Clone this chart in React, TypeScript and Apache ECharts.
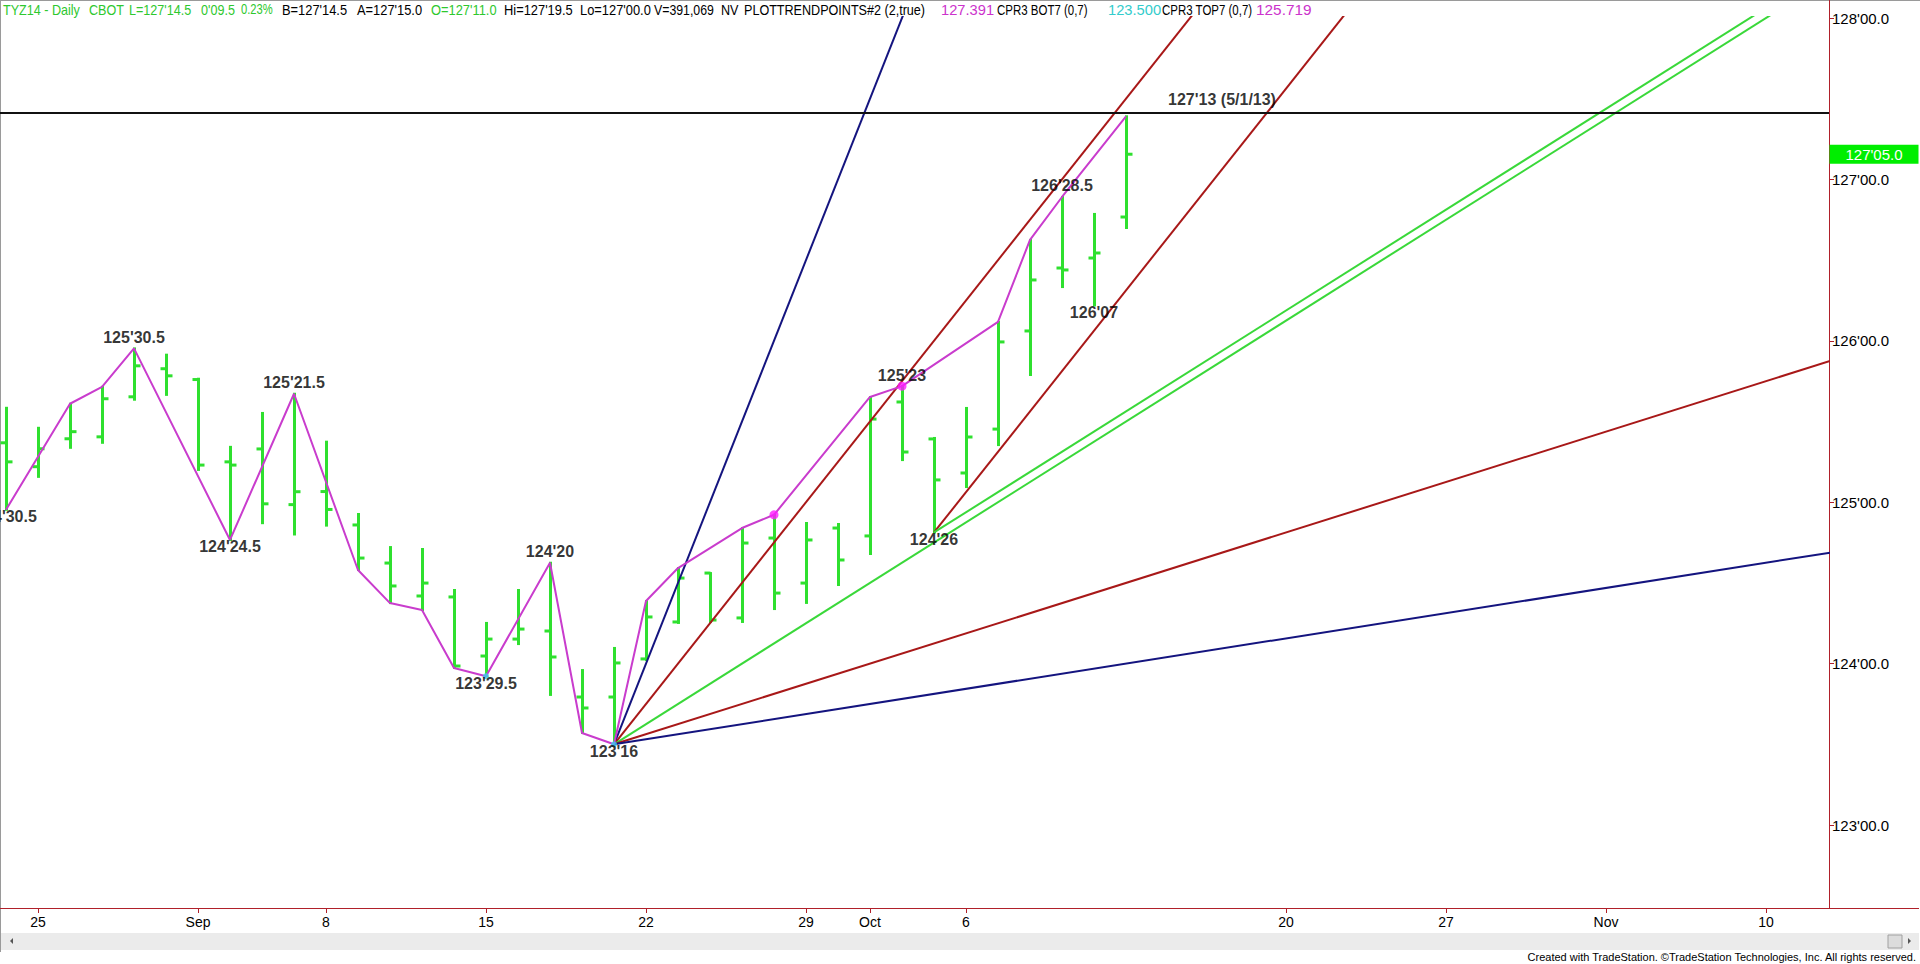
import React, { useEffect, useRef } from 'react';
import * as echarts from 'echarts';

// ---------- data ----------
const barDates = [
  '2014-08-22', '2014-08-25', '2014-08-26', '2014-08-27', '2014-08-28', '2014-08-29',
  '2014-09-02', '2014-09-03', '2014-09-04', '2014-09-05',
  '2014-09-08', '2014-09-09', '2014-09-10', '2014-09-11', '2014-09-12',
  '2014-09-15', '2014-09-16', '2014-09-17', '2014-09-18', '2014-09-19',
  '2014-09-22', '2014-09-23', '2014-09-24', '2014-09-25', '2014-09-26',
  '2014-09-29', '2014-09-30', '2014-10-01', '2014-10-02', '2014-10-03',
  '2014-10-06', '2014-10-07', '2014-10-08', '2014-10-09', '2014-10-10',
  '2014-10-13',
];
const opens = [
  125.368, 125.220, 125.393, 125.405, 125.653, 125.827,
  125.760, 125.250, 125.330, 124.985,
  125.066, 124.859, 124.623, 124.419, 124.413,
  124.047, 124.152, 124.202, 123.793, 123.793,
  124.029, 124.258, 124.561, 124.283, 124.778,
  124.499, 124.840, 124.791, 125.621, 125.392,
  125.181, 125.453, 126.061, 126.451, 126.513,
  126.767,
];
const highs = [
  125.585, 125.461, 125.610, 125.715, 125.953, 125.914,
  125.765, 125.343, 125.553, 125.672,
  125.375, 124.927, 124.722, 124.710, 124.456,
  124.252, 124.456, 124.625, 123.960, 124.097,
  124.388, 124.592, 124.561, 124.840, 124.922,
  124.871, 124.865, 125.652, 125.719, 125.398,
  125.584, 126.117, 126.625, 126.891, 126.786,
  127.391,
];
const lows = [
  124.953, 125.157, 125.337, 125.368, 125.635, 125.665,
  125.200, 124.766, 124.870, 124.800,
  124.855, 124.580, 124.375, 124.332, 123.973,
  123.922, 124.121, 123.806, 123.570, 123.500,
  124.022, 124.252, 124.258, 124.258, 124.338,
  124.376, 124.487, 124.679, 125.261, 124.8125,
  125.094, 125.354, 125.788, 126.333, 126.219,
  126.699,
];
const closes = [
  125.250, 125.331, 125.437, 125.641, 125.845, 125.783,
  125.230, 125.230, 124.990, 125.065,
  124.955, 124.654, 124.481, 124.499, 123.985,
  124.152, 124.214, 124.041, 123.725, 124.004,
  124.289, 124.530, 124.270, 124.747, 124.437,
  124.766, 124.642, 125.515, 125.311, 125.138,
  125.404, 125.993, 126.377, 126.439, 126.544,
  127.156,
];

// trading-day index of each date label on the time axis
const dateTickDays = [1, 6, 10, 15, 20, 25, 27, 30, 40, 45, 50, 55];
const dateTickLabels = ['25', 'Sep', '8', '15', '22', '29', 'Oct', '6', '20', '27', 'Nov', '10'];
const priceTicks = [123, 124, 125, 126, 127, 128];

// PLOTTRENDPOINTS zig-zag vertices: [day index, price]
const swingPoints = [
  [0, 124.953], [2, 125.610], [3, 125.715], [4, 125.953], [7, 124.766], [9, 125.672],
  [11, 124.580], [12, 124.375], [13, 124.332], [14, 123.973], [15, 123.922], [17, 124.625],
  [18, 123.570], [19, 123.500], [20, 124.388], [21, 124.592], [23, 124.840], [24, 124.922],
  [27, 125.652], [28, 125.719], [31, 126.117], [32, 126.625], [33, 126.891], [35, 127.391],
];
const magentaDots = [[24, 124.922], [28, 125.719]];
const cyanDots = [[15, 123.922], [19, 123.500]];

const swingHighDays = [4, 9, 17, 28, 33];
const swingLowDays = [0, 7, 15, 19, 29, 34];

// Gann-style angle lines: two points each [day, price]
const blueSteep = [[19, 123.5], [29, 128.5]];
const redSteep = [[19, 123.5], [39, 128.5]];
const greenMain = [[19, 123.5], [57, 128.25]];
const redShallow = [[19, 123.5], [57, 125.875]];
const blueShallow = [[19, 123.5], [57, 124.6875]];
const redParallel = [[29, 124.8125], [43, 128.3125]];
const greenParallel = [[29, 124.8125], [57, 128.3125]];

const resistanceLevel = 127.40625;
const resistanceText = "127'13 (5/1/13)";
const resistanceLabelDay = 38;
const lastPrice = 127.15625;

const headerItems = [
  'TYZ14 - Daily', 'CBOT', "L=127'14.5", "0'09.5", '0.23%', "B=127'14.5",
  "A=127'15.0", "O=127'11.0", "Hi=127'19.5", "Lo=127'00.0", 'V=391,069', 'NV',
  'PLOTTRENDPOINTS#2 (2,true)', '127.391', 'CPR3 BOT7 (0,7)', '123.500',
  'CPR3 TOP7 (0,7)', '125.719',
];

// ---------- helpers ----------
const FONT = "Arial, 'Liberation Sans', sans-serif";
const BAR_GREEN = '#2fe02f';
const AXIS_RED = '#b0202a';
const HDR_GREEN = '#2ec82e';
const HDR_MAGENTA = '#cc33cc';
const HDR_CYAN = '#33cccc';
const headerX = [3, 89, 129, 201, 241, 282, 357, 431, 504, 580, 654, 721, 744, 941, 997, 1108, 1162, 1256];
const headerScale = [0.9, 0.9, 0.9, 0.9, 0.8, 0.92, 0.92, 0.92, 0.92, 0.92, 0.88, 0.9, 0.9, 1.05, 0.82, 1.05, 0.82, 1.1];
const headerColors = [
  HDR_GREEN, HDR_GREEN, HDR_GREEN, HDR_GREEN, HDR_GREEN, '#000', '#000', HDR_GREEN, '#000',
  '#000', '#000', '#000', '#000', HDR_MAGENTA, '#000', HDR_CYAN, '#000', HDR_MAGENTA,
];

function fmtAxis(v: number) {
  const whole = Math.floor(v + 1e-9);
  const n32 = Math.round((v - whole) * 64) / 2;
  const i = Math.floor(n32);
  return `${whole}'${String(i).padStart(2, '0')}.${n32 - i >= 0.5 ? 5 : 0}`;
}
function fmtPivot(v: number) {
  const whole = Math.floor(v + 1e-9);
  const n32 = Math.round((v - whole) * 64) / 2;
  const i = Math.floor(n32);
  return `${whole}'${String(i).padStart(2, '0')}${n32 - i >= 0.5 ? '.5' : ''}`;
}

const X_MIN = -0.1875;
const X_MAX = 56.96875;
const Y_MIN = 122.4858;
const Y_MAX = 128.0062;

function trendSeries(data: number[][], color: string) {
  return {
    type: 'line',
    data,
    showSymbol: false,
    symbol: 'none',
    clip: true,
    silent: true,
    z: 4,
    lineStyle: { color, width: 2 },
  };
}

export default function App() {
  const ref = useRef<HTMLDivElement>(null);
  useEffect(() => {
    const el = ref.current;
    if (!el) return;
    const chart = echarts.init(el, undefined, { renderer: 'svg' });

    const ohlc = barDates.map((_, i) => [i, opens[i], highs[i], lows[i], closes[i]]);

    const pivotLabels: any[] = [];
    swingHighDays.forEach((d) => {
      pivotLabels.push({ value: [d, highs[d]], label: { formatter: fmtPivot(highs[d]), offset: [0, -11] } });
    });
    swingLowDays.forEach((d) => {
      pivotLabels.push({ value: [d, lows[d]], label: { formatter: fmtPivot(lows[d]), offset: [0, 7] } });
    });
    pivotLabels.push({ value: [resistanceLabelDay, resistanceLevel], label: { formatter: resistanceText, offset: [0, -14] } });

    const option: any = {
      animation: false,
      backgroundColor: '#ffffff',
      textStyle: { fontFamily: FONT },
      grid: { left: 0, top: 17, width: 1829, height: 891, containLabel: false, outerBoundsMode: 'none' },
      xAxis: {
        type: 'value',
        min: X_MIN,
        max: X_MAX,
        splitLine: { show: false },
        axisLine: { show: true, onZero: false, lineStyle: { color: AXIS_RED, width: 1 } },
        axisTick: { show: true, customValues: dateTickDays, length: 5, lineStyle: { color: AXIS_RED } },
        axisLabel: {
          show: true,
          customValues: dateTickDays,
          formatter: (v: number) => {
            const k = dateTickDays.indexOf(Math.round(v));
            return k >= 0 ? dateTickLabels[k] : '';
          },
          color: '#000',
          fontSize: 14,
          fontFamily: FONT,
          margin: 7,
        },
      },
      yAxis: {
        type: 'value',
        position: 'right',
        min: Y_MIN,
        max: Y_MAX,
        splitLine: { show: false },
        axisLine: { show: true, onZero: false, lineStyle: { color: AXIS_RED, width: 1 } },
        axisTick: { show: true, customValues: priceTicks, length: 5, lineStyle: { color: AXIS_RED } },
        axisLabel: {
          show: true,
          customValues: priceTicks,
          formatter: (v: number) => fmtAxis(v),
          color: '#000',
          fontSize: 15,
          fontFamily: FONT,
          margin: 3,
        },
      },
      series: [
        {
          type: 'custom',
          data: ohlc,
          clip: false,
          silent: true,
          z: 2,
          encode: { x: 0, y: [1, 2, 3, 4] },
          renderItem: (params: any, api: any) => {
            const i = api.value(0);
            const o = api.coord([i, api.value(1)]);
            const h = api.coord([i, api.value(2)]);
            const l = api.coord([i, api.value(3)]);
            const c = api.coord([i, api.value(4)]);
            const x = Math.round(h[0]) + 0.5;
            const style = { stroke: BAR_GREEN, lineWidth: 3, fill: null };
            return {
              type: 'group',
              children: [
                { type: 'line', shape: { x1: x, y1: h[1] - 1, x2: x, y2: l[1] + 1 }, style },
                { type: 'line', shape: { x1: x - 6, y1: o[1], x2: x, y2: o[1] }, style },
                { type: 'line', shape: { x1: x, y1: c[1], x2: x + 6, y2: c[1] }, style },
              ],
            };
          },
        },
        trendSeries(blueSteep, '#14147f'),
        trendSeries(redSteep, '#a81818'),
        trendSeries(greenMain, '#3ad83a'),
        trendSeries(redShallow, '#a81818'),
        trendSeries(blueShallow, '#14147f'),
        trendSeries(redParallel, '#a81818'),
        trendSeries(greenParallel, '#3ad83a'),
        {
          type: 'line',
          data: swingPoints,
          showSymbol: false,
          symbol: 'none',
          clip: false,
          silent: true,
          z: 5,
          lineStyle: { color: '#c93ccd', width: 2 },
          markLine: {
            silent: true,
            symbol: ['none', 'none'],
            label: { show: false },
            lineStyle: { color: '#111', width: 2, type: 'solid' },
            data: [{ yAxis: resistanceLevel }],
          },
          markPoint: {
            silent: true,
            symbol: 'rect',
            symbolSize: [89, 19],
            symbolOffset: [45, 0],
            itemStyle: { color: '#00ee00' },
            label: {
              show: true,
              position: 'inside',
              color: '#ffffff',
              fontSize: 15,
              fontFamily: FONT,
              formatter: fmtAxis(lastPrice),
            },
            data: [{ coord: [X_MAX, lastPrice] }],
          },
        },
        {
          type: 'scatter',
          data: magentaDots,
          symbolSize: 9,
          z: 6,
          silent: true,
          itemStyle: { color: '#ff1aff' },
        },
        {
          type: 'scatter',
          data: cyanDots,
          symbolSize: 6,
          z: 6,
          silent: true,
          itemStyle: { color: '#3cc8f0' },
        },
        {
          type: 'scatter',
          data: pivotLabels,
          symbolSize: 0,
          clip: false,
          silent: true,
          z: 7,
          label: {
            show: true,
            position: 'inside',
            color: '#000',
            fontSize: 16,
            fontWeight: 'bold',
            fontFamily: FONT,
          },
        },
      ],
      graphic: [
        // header texts
        ...headerItems.map((t, k) => ({
          type: 'text',
          x: headerX[k],
          y: 10,
          scaleX: headerScale[k],
          silent: true,
          style: { text: t, fill: headerColors[k], fontSize: 14, fontFamily: FONT, verticalAlign: 'middle' },
        })),
        // frame
        { type: 'line', silent: true, shape: { x1: 0, y1: 0.5, x2: 1920, y2: 0.5 }, style: { stroke: '#9a9a9a', lineWidth: 1 } },
        { type: 'line', silent: true, shape: { x1: 0.5, y1: 0, x2: 0.5, y2: 952 }, style: { stroke: '#9a9a9a', lineWidth: 1 } },
        { type: 'line', silent: true, shape: { x1: 1829.5, y1: 0, x2: 1829.5, y2: 17 }, style: { stroke: AXIS_RED, lineWidth: 1 } },
        { type: 'line', silent: true, shape: { x1: 1829, y1: 908.5, x2: 1919, y2: 908.5 }, style: { stroke: AXIS_RED, lineWidth: 1 } },
        // scrollbar
        { type: 'rect', silent: true, shape: { x: 1, y: 933, width: 1918, height: 17 }, style: { fill: '#ebebeb' } },
        { type: 'polygon', silent: true, shape: { points: [[10, 941], [13, 938], [13, 944]] }, style: { fill: '#555' } },
        { type: 'rect', silent: true, shape: { x: 1888, y: 935, width: 14, height: 13 }, style: { fill: '#dcdcdc', stroke: '#a0a0a0', lineWidth: 1 } },
        { type: 'polygon', silent: true, shape: { points: [[1908, 938], [1911, 941], [1908, 944]] }, style: { fill: '#555' } },
        // footer
        {
          type: 'text',
          right: 3,
          top: 951,
          silent: true,
          style: {
            text: 'Created with TradeStation. ©TradeStation Technologies, Inc. All rights reserved.',
            fill: '#000',
            fontSize: 11,
            fontFamily: FONT,
          },
        },
      ],
    };

    chart.setOption(option);
    return () => chart.dispose();
  }, []);

  return (
    <div
      ref={ref}
      style={{ position: 'fixed', left: 0, top: 0, width: 1920, height: 964, background: '#ffffff' }}
    />
  );
}
